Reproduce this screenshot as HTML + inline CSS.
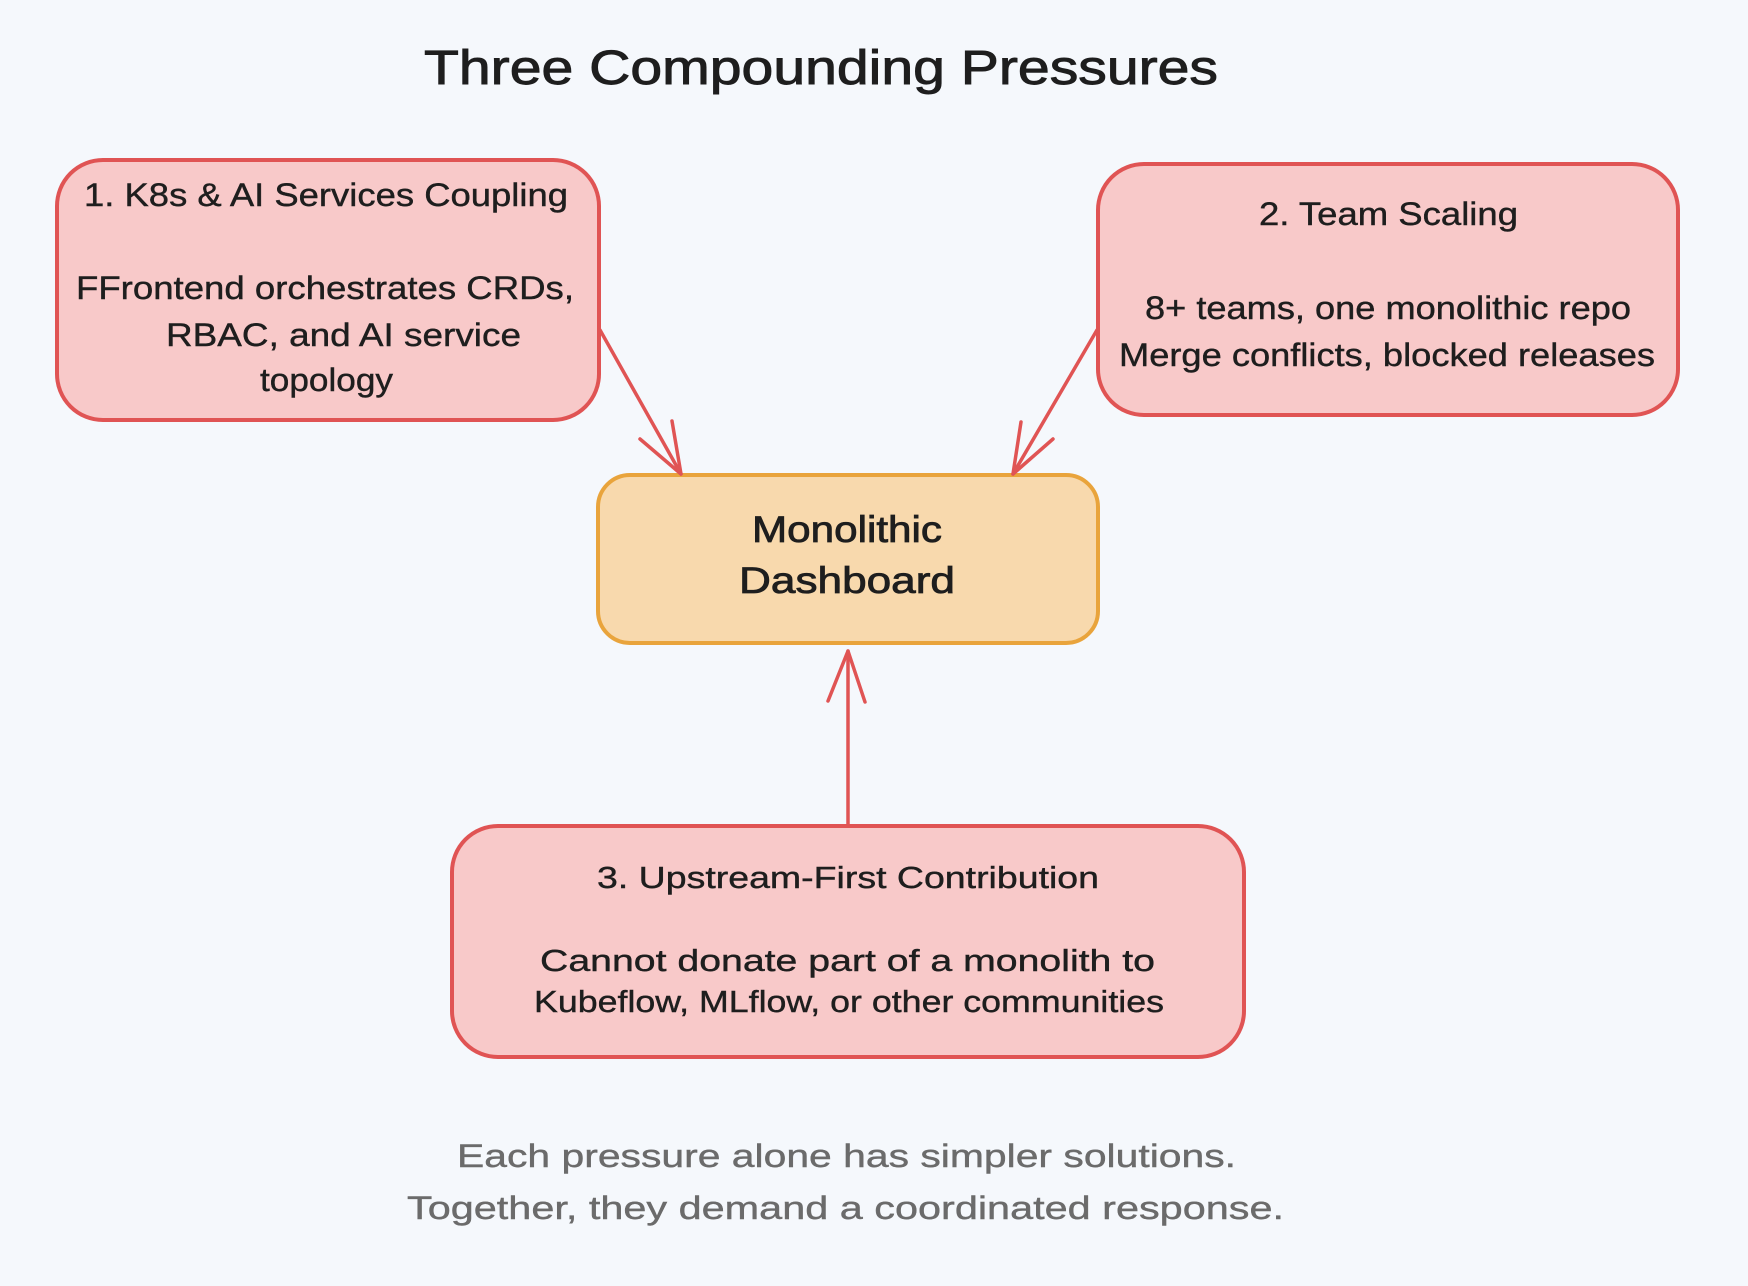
<!DOCTYPE html>
<html><head><meta charset="utf-8"><style>
html,body{margin:0;padding:0;background:#f5f8fc;}
svg{display:block;}
text{font-family:"Liberation Sans",sans-serif;fill:#1e1e1e;}
</style></head><body>
<svg width="1748" height="1286" viewBox="0 0 1748 1286" xmlns="http://www.w3.org/2000/svg">
<rect x="0" y="0" width="1748" height="1286" fill="#f5f8fc"/>
<text x="424" y="84" font-size="48" stroke="#1e1e1e" stroke-width="0.9" textLength="794" lengthAdjust="spacingAndGlyphs">Three Compounding Pressures</text>

<!-- Box 1 -->
<rect x="57" y="160" width="542" height="260" rx="46" fill="#f8c9c9" stroke="#e05454" stroke-width="4"/>
<g stroke="#1e1e1e" stroke-width="0.4">
<text x="84" y="206" font-size="32" textLength="484" lengthAdjust="spacingAndGlyphs">1. K8s &amp; AI Services Coupling</text>
<text x="76" y="299" font-size="32" textLength="498" lengthAdjust="spacingAndGlyphs">FFrontend orchestrates CRDs,</text>
<text x="166" y="346" font-size="32" textLength="355" lengthAdjust="spacingAndGlyphs">RBAC, and AI service</text>
<text x="260" y="391" font-size="32" textLength="133" lengthAdjust="spacingAndGlyphs">topology</text>
</g>

<!-- Box 2 -->
<rect x="1098" y="164" width="580" height="251" rx="46" fill="#f8c9c9" stroke="#e05454" stroke-width="4"/>
<g stroke="#1e1e1e" stroke-width="0.4">
<text x="1259" y="225" font-size="32" textLength="259" lengthAdjust="spacingAndGlyphs">2. Team Scaling</text>
<text x="1145" y="319" font-size="32" textLength="486" lengthAdjust="spacingAndGlyphs">8+ teams, one monolithic repo</text>
<text x="1119" y="366" font-size="32" textLength="536" lengthAdjust="spacingAndGlyphs">Merge conflicts, blocked releases</text>
</g>

<!-- Dashboard -->
<rect x="598" y="475" width="500" height="168" rx="32" fill="#f8d9ad" stroke="#e9a43c" stroke-width="4"/>
<g stroke="#1e1e1e" stroke-width="0.8">
<text x="752" y="542" font-size="37" textLength="190" lengthAdjust="spacingAndGlyphs">Monolithic</text>
<text x="739" y="593" font-size="37" textLength="216" lengthAdjust="spacingAndGlyphs">Dashboard</text>
</g>

<!-- Box 3 -->
<rect x="452" y="826" width="792" height="231" rx="46" fill="#f8c9c9" stroke="#e05454" stroke-width="4"/>
<g stroke="#1e1e1e" stroke-width="0.4">
<text x="597" y="888" font-size="31" textLength="502" lengthAdjust="spacingAndGlyphs">3. Upstream-First Contribution</text>
<text x="540" y="971" font-size="31" textLength="615" lengthAdjust="spacingAndGlyphs">Cannot donate part of a monolith to</text>
<text x="534" y="1012" font-size="31" textLength="630" lengthAdjust="spacingAndGlyphs">Kubeflow, MLflow, or other communities</text>
</g>

<!-- Arrows -->
<g stroke="#e05454" stroke-width="3.5" fill="none" stroke-linecap="round" stroke-linejoin="round">
  <line x1="600" y1="330" x2="681" y2="474"/>
  <polyline points="640,439 681,474 672,421"/>
  <line x1="1097" y1="330" x2="1013" y2="474"/>
  <polyline points="1021,422 1013,474 1053,439"/>
  <line x1="848" y1="825" x2="848" y2="651"/>
  <polyline points="828,701 848,651 865,702"/>
</g>

<!-- Caption -->
<g stroke="#6b6b6b" stroke-width="0.4">
<text x="457" y="1167" font-size="32" style="fill:#6b6b6b" textLength="779" lengthAdjust="spacingAndGlyphs">Each pressure alone has simpler solutions.</text>
<text x="407" y="1219" font-size="32" style="fill:#6b6b6b" textLength="877" lengthAdjust="spacingAndGlyphs">Together, they demand a coordinated response.</text>
</g>
</svg>
</body></html>
